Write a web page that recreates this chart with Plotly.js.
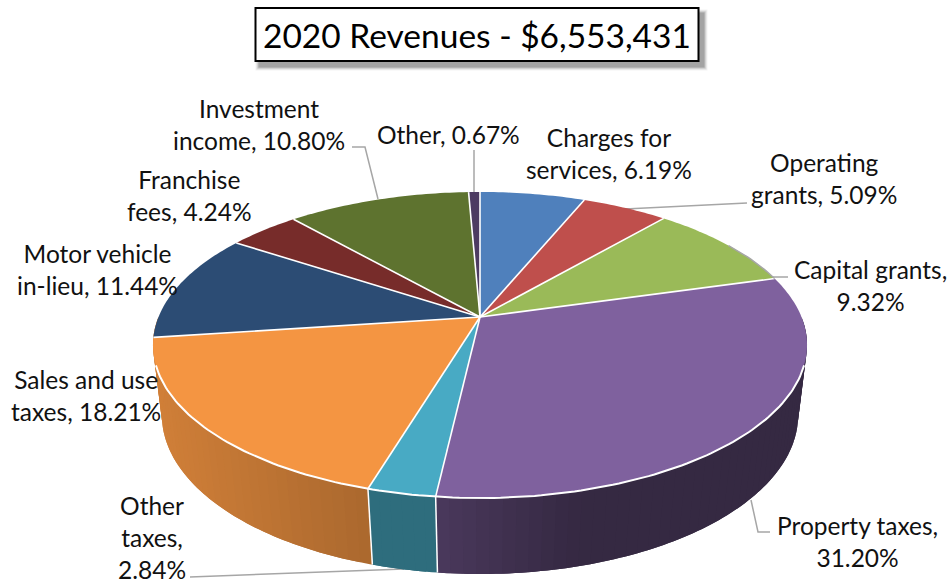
<!DOCTYPE html>
<html><head><meta charset="utf-8">
<script src="https://cdn.plot.ly/plotly-3.0.1.min.js"></script>
<style>html,body{margin:0;padding:0;background:#fff}#c{width:952px;height:583px}</style>
</head><body><div id="c"></div>
<script>
// ---- data ----
const titleText = "2020 Revenues - $6,553,431";
const categories = ["Charges for services","Operating grants","Capital grants","Property taxes","Other taxes","Sales and use taxes","Motor vehicle in-lieu","Franchise fees","Investment income","Other"];
const shares = [6.19,5.09,9.32,31.20,2.84,18.21,11.44,4.24,10.80,0.67];
const labelTexts = ["Charges for<br>services, 6.19%","Operating<br>grants, 5.09%","Capital grants,<br>9.32%","Property taxes,<br>31.20%","Other<br>taxes,<br>2.84%","Sales and use<br>taxes, 18.21%","Motor vehicle<br>in-lieu, 11.44%","Franchise<br>fees, 4.24%","Investment<br>income, 10.80%","Other, 0.67%"];

// ---- styling ----
const colors = ["#4f80bc","#bf4f4c","#9aba58","#7f619e","#48aac4","#f49542","#2c4c74","#772c2a","#5e732f","#4d3b62"];
const labelPos = [[609,153],[824,178],[870,285],[857,541],[152,537],[86,395],[97,269],[189,195],[259,124],[448,134]];
const leaders = [
 [[747,203],[625,209]],[],[[788,277],[773,277]],
 [[770,532],[758,532],[751,500]],[[190,577],[404,569]],[],[],[],
 [[352,147],[365,147],[378,199]],[[474,150],[474,192]]
];
const FONT = "Lato, Carlito, 'Open Sans', sans-serif";
const top3d = {cx:480,cy:317,A:321.5,B:147.9,k:0.183};
const bot3d = {cx:480,cy:388,A:313.5,B:154.4,k:0.17};
function proj(p,t){const u=Math.sin(t),v=-Math.cos(t),d=1-p.k*v;return [p.cx+p.A*u/d,p.cy+p.B*v/d];}
function rgb(h,f){const n=parseInt(h.slice(1),16);return `rgb(${Math.round((n>>16)*f)},${Math.round(((n>>8)&255)*f)},${Math.round((n&255)*f)})`;}
function shade(i,x){
  if(i===3) return 0.42+0.16*Math.max(0,1-(x-437)/140);
  if(i===5) return 0.85-0.15*(x-158)/210;
  if(i===4) return 0.64;
  return 0.6;
}
const traces=[];
function poly(pts,color){traces.push({type:"scatter",mode:"none",x:pts.map(p=>p[0]),y:pts.map(p=>p[1]),fill:"toself",fillcolor:color,hoverinfo:"skip",showlegend:false});}
function line(pts,color,w){traces.push({type:"scatter",mode:"lines",x:pts.map(p=>p[0]),y:pts.map(p=>p[1]),line:{color:color,width:w},hoverinfo:"skip",showlegend:false});}

// angular boundaries derived from the shares
const total=shares.reduce((a,b)=>a+b,0);
const bounds=[0];shares.forEach(s=>bounds.push(bounds[bounds.length-1]+s/total*2*Math.PI));
const deg=Math.PI/180;

// leader lines beneath the pie
leaders.forEach(l=>{if(l.length)line(l,"#a6a6a6",1.5);});

// side walls: overlapping strips, later ones painted over earlier ones
shares.forEach((s,i)=>{
  if(i===6)return;
  const a=Math.max(bounds[i],90*deg),b=i===5?270*deg:Math.min(bounds[i+1],270*deg);
  if(b<=a)return;
  const n=Math.max(1,Math.ceil((b-a)/(2*deg)));
  for(let j=0;j<n;j++){
    const t0=a+(b-a)*j/n,t1=Math.min(b,a+(b-a)*(j+2)/n);
    const m=a+(b-a)*(j+.5)/n;
    const pts=[];
    for(let q=0;q<=4;q++)pts.push(proj(top3d,t0+(t1-t0)*q/4));
    for(let q=4;q>=0;q--)pts.push(proj(bot3d,t0+(t1-t0)*q/4));
    pts.push(pts[0]);
    poly(pts,rgb(colors[i],shade(i,proj(top3d,m)[0])));
  }
});
// wall separators
bounds.forEach(t=>{if(t>105*deg&&t<255*deg)line([proj(top3d,t),proj(bot3d,t)],"#ffffff",1.5);});
// top faces
shares.forEach((s,i)=>{
  const pts=[[top3d.cx,top3d.cy]];
  const n=Math.max(2,Math.ceil((bounds[i+1]-bounds[i])/(1*deg)));
  for(let j=0;j<=n;j++)pts.push(proj(top3d,bounds[i]+(bounds[i+1]-bounds[i])*j/n));
  pts.push(pts[0]);
  poly(pts,colors[i]);
});
// white radial lines and front rim
bounds.slice(0,-1).forEach(t=>line([[top3d.cx,top3d.cy],proj(top3d,t)],"#ffffff",1.6));
const rim=[];for(let t=108;t<=252;t+=1)rim.push(proj(top3d,t*deg));
line(rim,"#ffffff",2);
// capital-grants leader runs along the slice rim
const capRim=[];for(let t=58*deg;t<=bounds[3];t+=deg)capRim.push(proj(top3d,t));
capRim.push(proj(top3d,bounds[3]));
line(capRim,"#a6a6a6",1.5);

const shapes=[];
// soft title-box shadow
[[9,.05],[7,.08],[5,.12],[3,.16]].forEach(([g,o])=>shapes.push({type:"rect",xref:"x",yref:"y",x0:255+5-g/2,x1:699+4+g/2,y0:8+6-g/2,y1:61+5+g/2,fillcolor:"#000",opacity:o,line:{width:0},layer:"above"}));
shapes.push({type:"rect",xref:"x",yref:"y",x0:255.5,x1:698.5,y0:8,y1:61,fillcolor:"#fff",line:{color:"#000",width:2},layer:"above"});

const annotations=labelTexts.map((t,i)=>({x:labelPos[i][0],y:labelPos[i][1],xref:"x",yref:"y",text:t,showarrow:false,xanchor:"center",yanchor:"middle",align:"center",font:{family:FONT,size:24.5,color:"#111"}}));
annotations.push({x:477,y:35,xref:"x",yref:"y",text:titleText,showarrow:false,xanchor:"center",yanchor:"middle",font:{family:FONT,size:33.5,color:"#000"}});

Plotly.newPlot("c",traces,{
  width:952,height:583,margin:{l:0,r:0,t:0,b:0},paper_bgcolor:"#fff",plot_bgcolor:"#fff",showlegend:false,
  xaxis:{range:[0,952],visible:false,fixedrange:true},
  yaxis:{range:[583,0],visible:false,fixedrange:true},
  shapes,annotations
},{displayModeBar:false,staticPlot:true});
</script></body></html>
